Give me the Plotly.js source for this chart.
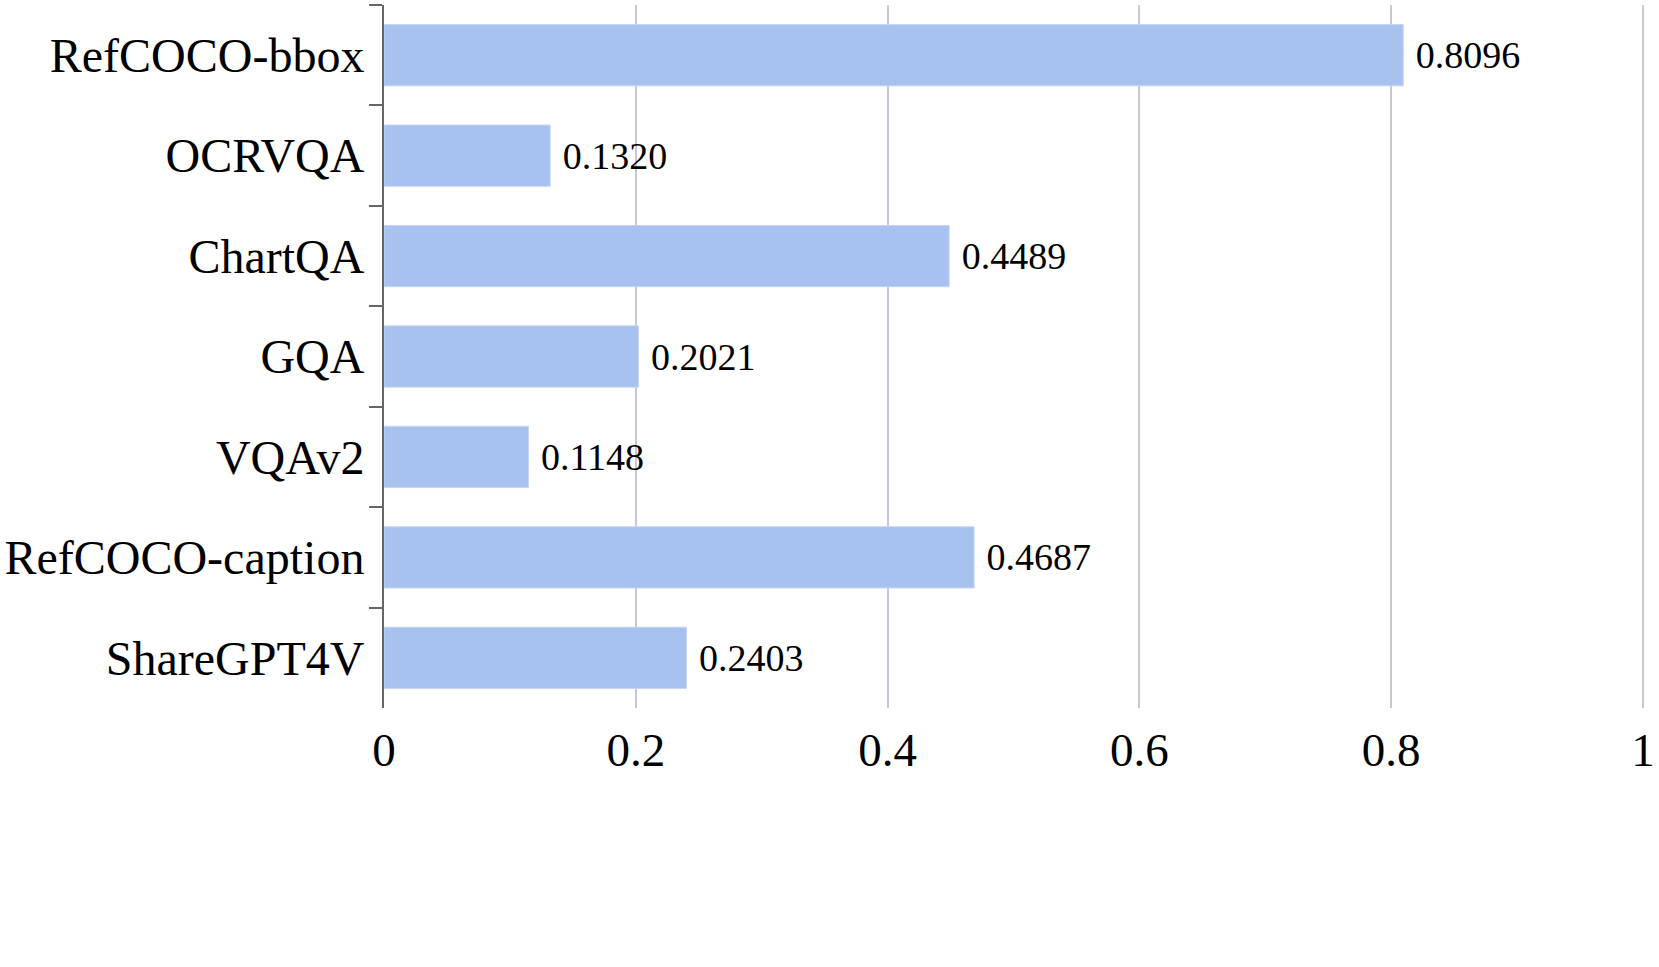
<!DOCTYPE html>
<html>
<head>
<meta charset="utf-8">
<script src="https://cdn.plot.ly/plotly-3.0.1.min.js"></script>
<style>html,body{margin:0;padding:0;background:#fff;}#chart{width:1659px;height:967px;}</style>
</head>
<body>
<div id="chart"></div>
<script>
const categories = ["RefCOCO-bbox", "OCRVQA", "ChartQA", "GQA", "VQAv2", "RefCOCO-caption", "ShareGPT4V"];
const values = [0.8096, 0.1320, 0.4489, 0.2021, 0.1148, 0.4687, 0.2403];
const xTickVals = [0, 0.2, 0.4, 0.6, 0.8, 1];
const xTickText = ["0", "0.2", "0.4", "0.6", "0.8", "1"];

const FONT = "'Liberation Serif', 'Times New Roman', Times, serif";

const trace = {
  type: "bar",
  orientation: "h",
  y: categories,
  x: values,
  marker: { color: "#a8c2f0", line: { color: "#c4d5f5", width: 1 } },
  text: values.map(v => v.toFixed(4)),
  texttemplate: " %{text}",
  textposition: "outside",
  textfont: { family: FONT, size: 38, color: "#000" },
  cliponaxis: false,
  hoverinfo: "skip"
};

const layout = {
  width: 1659,
  height: 967,
  paper_bgcolor: "#fff",
  plot_bgcolor: "#fff",
  margin: { l: 384, r: 15, t: 5, b: 259 },
  bargap: 0.39,
  showlegend: false,
  font: { family: FONT, color: "#000" },
  xaxis: {
    range: [0, 1.0008],
    tickvals: xTickVals,
    ticktext: xTickText,
    showgrid: true,
    gridcolor: "#c6c7da",
    gridwidth: 2,
    zeroline: false,
    showline: false,
    ticks: "",
    tickfont: { family: FONT, size: 47, color: "#000" },
    ticklabelstandoff: 10,
    ticklabeloverflow: "allow",
    automargin: false,
    fixedrange: true
  },
  yaxis: {
    type: "category",
    autorange: "reversed",
    showline: true,
    linecolor: "#666",
    linewidth: 2,
    ticks: "outside",
    tickson: "boundaries",
    ticklen: 13,
    tickwidth: 2,
    tickcolor: "#666",
    showgrid: false,
    tickfont: { family: FONT, size: 48, color: "#000" },
    ticklabelstandoff: 8,
    automargin: false,
    fixedrange: true
  }
};

Plotly.newPlot("chart", [trace], layout, { displayModeBar: false, staticPlot: true });
</script>
</body>
</html>
